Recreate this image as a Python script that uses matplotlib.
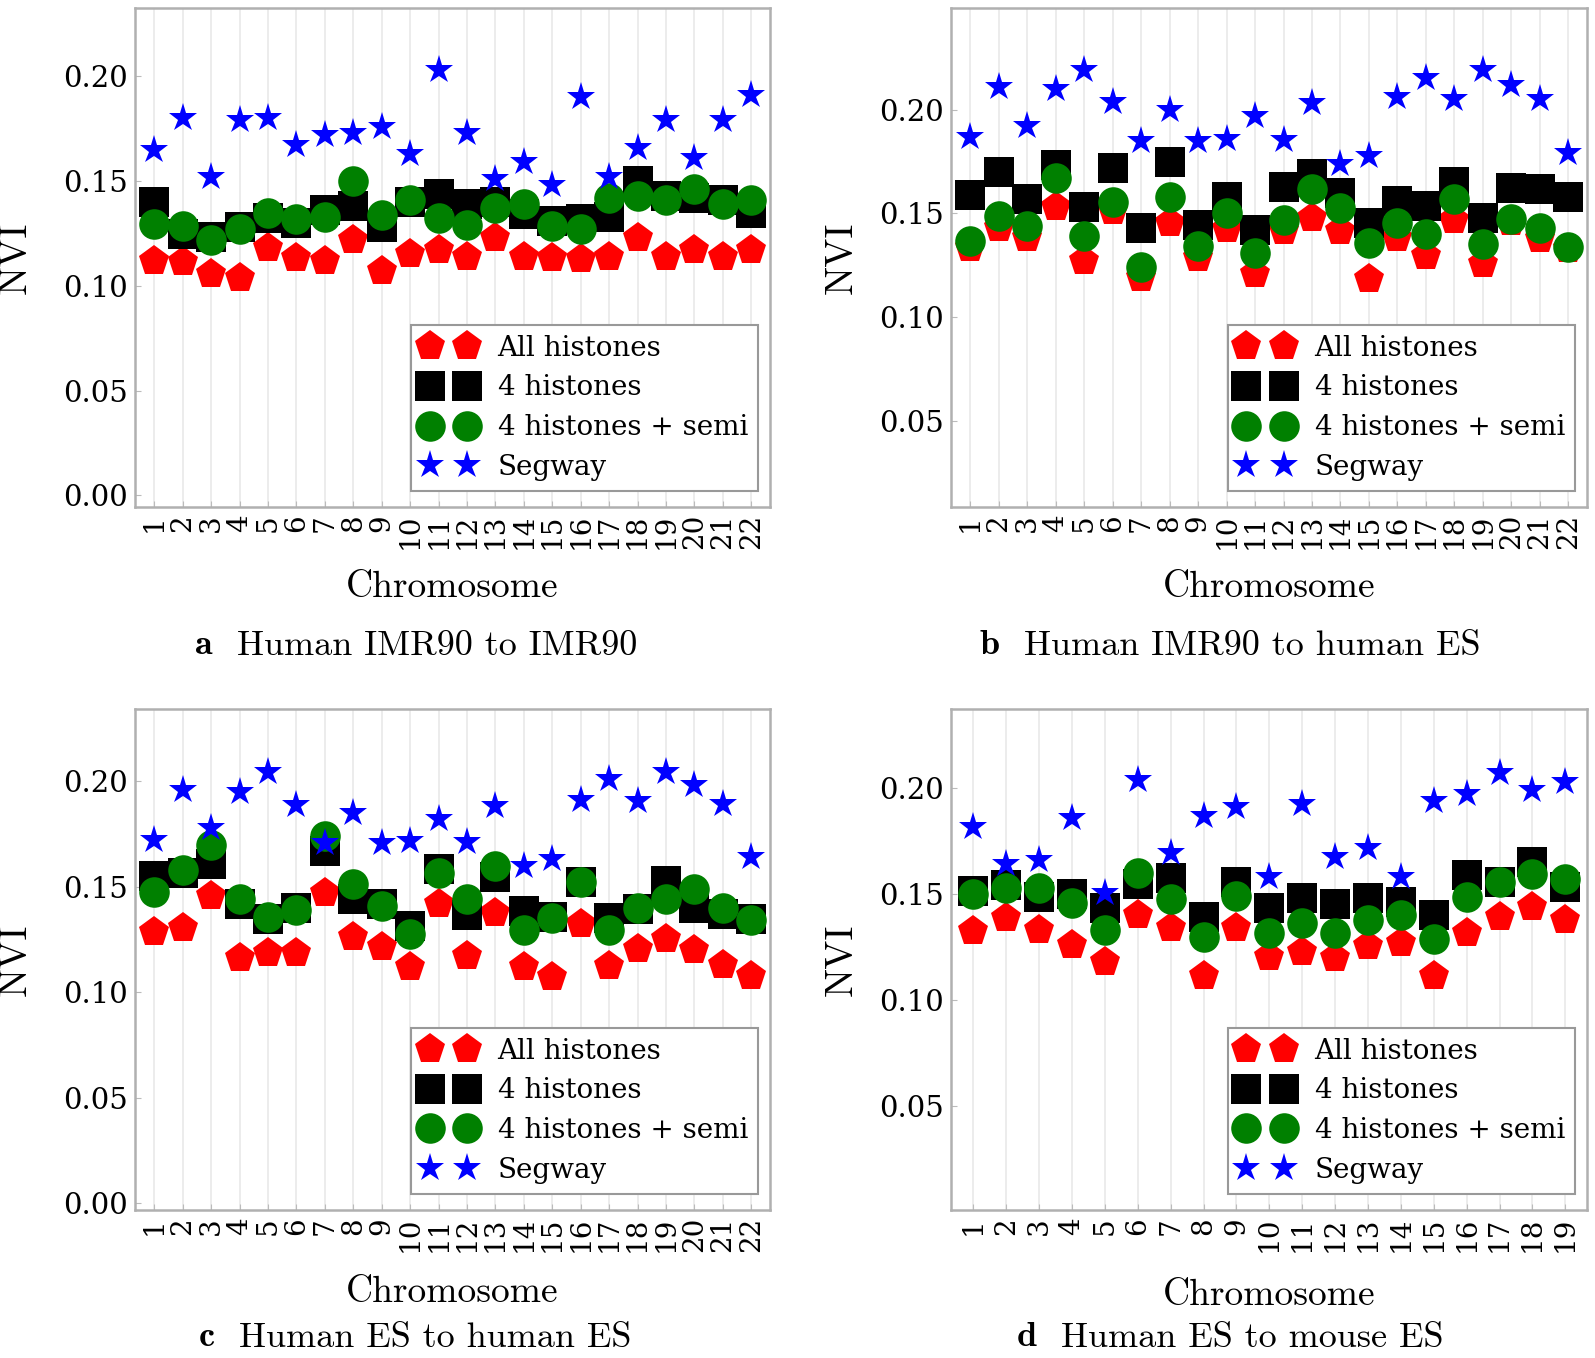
import matplotlib
matplotlib.use("Agg")
import matplotlib.pyplot as plt
import numpy as np

W, H = 1595, 1358

# ---- data (NVI per chromosome) ----
chrom_a = list(range(1, 23))
all_a = [0.112, 0.1116, 0.1056, 0.1037, 0.118, 0.1135, 0.112, 0.122, 0.107, 0.115, 0.117,
         0.114, 0.123, 0.114, 0.1135, 0.113, 0.114, 0.123, 0.114, 0.117, 0.114, 0.117]
four_a = [0.140, 0.125, 0.1235, 0.128, 0.1325, 0.130, 0.136, 0.138, 0.128, 0.140, 0.144,
          0.139, 0.140, 0.1345, 0.131, 0.132, 0.133, 0.150, 0.143, 0.142, 0.141, 0.135]
semi_a = [0.1294, 0.1286, 0.1217, 0.127, 0.135, 0.132, 0.133, 0.150, 0.134, 0.141, 0.1325,
          0.129, 0.137, 0.139, 0.1286, 0.127, 0.142, 0.143, 0.141, 0.146, 0.139, 0.141]
seg_a = [0.165, 0.180, 0.152, 0.179, 0.180, 0.167, 0.172, 0.173, 0.176, 0.163, 0.203,
         0.173, 0.151, 0.159, 0.148, 0.190, 0.152, 0.166, 0.179, 0.161, 0.179, 0.191]

chrom_b = list(range(1, 23))
all_b = [0.1336, 0.143, 0.138, 0.153, 0.127, 0.151, 0.119, 0.1456, 0.1285, 0.1424, 0.121,
         0.1416, 0.1477, 0.1416, 0.1184, 0.138, 0.1296, 0.147, 0.1256, 0.146, 0.1376, 0.133]
four_b = [0.159, 0.170, 0.157, 0.1736, 0.153, 0.172, 0.143, 0.175, 0.1446, 0.158, 0.142,
          0.163, 0.169, 0.160, 0.1456, 0.156, 0.1536, 0.1654, 0.1477, 0.1624, 0.162, 0.158]
semi_b = [0.1368, 0.1488, 0.144, 0.167, 0.139, 0.1557, 0.124, 0.158, 0.1344, 0.150, 0.131,
          0.1467, 0.1616, 0.1528, 0.136, 0.1456, 0.140, 0.1568, 0.1355, 0.1472, 0.143, 0.134]
seg_b = [0.187, 0.211, 0.192, 0.210, 0.219, 0.2035, 0.185, 0.200, 0.185, 0.186, 0.197,
         0.1856, 0.203, 0.174, 0.1776, 0.206, 0.2155, 0.205, 0.219, 0.212, 0.205, 0.179]

chrom_c = list(range(1, 23))
all_c = [0.1286, 0.1306, 0.1455, 0.116, 0.1186, 0.1186, 0.1468, 0.126, 0.1215, 0.112, 0.142,
         0.117, 0.1376, 0.112, 0.1073, 0.1322, 0.1123, 0.1207, 0.1254, 0.120, 0.1128, 0.1076]
four_c = [0.155, 0.1567, 0.1607, 0.142, 0.1346, 0.1397, 0.167, 0.1444, 0.142, 0.1313, 0.1584,
          0.1368, 0.1547, 0.1385, 0.1355, 0.1523, 0.1354, 0.1392, 0.1529, 0.1398, 0.137, 0.1346]
semi_c = [0.1476, 0.158, 0.1697, 0.1444, 0.1357, 0.139, 0.174, 0.1515, 0.1408, 0.1278, 0.1566,
          0.1444, 0.1597, 0.1294, 0.135, 0.1523, 0.1297, 0.1397, 0.1444, 0.1487, 0.1397, 0.134]
seg_c = [0.172, 0.196, 0.178, 0.195, 0.2044, 0.1886, 0.1705, 0.1847, 0.1705, 0.1717, 0.1823,
         0.171, 0.188, 0.160, 0.1633, 0.191, 0.2008, 0.1907, 0.2044, 0.198, 0.189, 0.164]

chrom_d = list(range(1, 20))
all_d = [0.1328, 0.1386, 0.133, 0.126, 0.118, 0.140, 0.1339, 0.1113, 0.1339, 0.1205,
         0.1228, 0.1197, 0.1255, 0.1268, 0.1113, 0.1315, 0.1394, 0.144, 0.1378]
four_d = [0.1517, 0.1543, 0.1488, 0.150, 0.1435, 0.155, 0.1576, 0.1392, 0.1556, 0.1435,
          0.148, 0.1453, 0.1482, 0.1465, 0.140, 0.159, 0.1557, 0.165, 0.1532]
semi_d = [0.150, 0.1528, 0.1528, 0.146, 0.133, 0.1598, 0.1476, 0.1296, 0.149, 0.1315,
          0.1365, 0.1315, 0.1378, 0.140, 0.129, 0.1488, 0.1559, 0.1595, 0.157]
seg_d = [0.1816, 0.1643, 0.1661, 0.1858, 0.1507, 0.204, 0.1696, 0.187, 0.1913, 0.158,
         0.1926, 0.1677, 0.1717, 0.158, 0.1942, 0.1973, 0.2074, 0.199, 0.203]

panels = [
    # data, pixel box (left, top, right, bottom), ylim, yticks, letter, caption,
    # caption left x, "Chromosome" y, caption y
    ((chrom_a, all_a, four_a, semi_a, seg_a), (135, 8, 770, 507), (-0.0055, 0.2326),
     [0.00, 0.05, 0.10, 0.15, 0.20], "a", "Human IMR90 to IMR90", 237, 587, 646),
    ((chrom_b, all_b, four_b, semi_b, seg_b), (951, 8, 1587, 507), (0.0086, 0.249),
     [0.05, 0.10, 0.15, 0.20], "b", "Human IMR90 to human ES", 1024, 587, 646),
    ((chrom_c, all_c, four_c, semi_c, seg_c), (135, 709, 770, 1210), (-0.0032, 0.2342),
     [0.00, 0.05, 0.10, 0.15, 0.20], "c", "Human ES to human ES", 239, 1292, 1338),
    ((chrom_d, all_d, four_d, semi_d, seg_d), (951, 709, 1587, 1210), (0.0007, 0.2375),
     [0.05, 0.10, 0.15, 0.20], "d", "Human ES to mouse ES", 1061, 1295, 1338),
]

labels = ["All histones", "4 histones", "4 histones + semi", "Segway"]
colors = ["red", "black", "green", "blue"]
markers = ["p", "s", "o", "*"]
sizes = [23, 22, 22, 21]

fig = plt.figure(figsize=(W / 100, H / 100), dpi=100)

for data, box, ylim, yt, letter, caption, cx, chy, cy in panels:
    l, t, r, b = box
    ax = fig.add_axes([l / W, 1 - b / H, (r - l) / W, (b - t) / H])
    chrom = data[0]
    for k in range(4):
        ax.plot(chrom, data[k + 1], linestyle="none", marker=markers[k], color=colors[k],
                markersize=sizes[k], markeredgewidth=0, label=labels[k], zorder=3 + k)
    n = len(chrom)
    ax.set_xlim(0.32, n + 0.66)
    ax.set_ylim(*ylim)
    ax.set_xticks(chrom)
    ax.set_xticklabels([str(c) for c in chrom], rotation=90, fontsize=20, family="DejaVu Serif")
    ax.set_yticks(yt)
    ax.set_yticklabels(["%.2f" % v for v in yt], fontsize=21, family="DejaVu Serif")
    ax.tick_params(direction="in", length=4, color="#bbbbbb", pad=5)
    ax.grid(axis="x", color="#ebebeb", linewidth=1.3, zorder=0)
    ax.set_axisbelow(True)
    for s in ax.spines.values():
        s.set_color("#b0b0b0")
        s.set_linewidth(1.8)
    ax.set_ylabel("NVI", fontsize=28, family="cmr10")
    # right edge of the rotated label, in pixels
    lab_px = 34 if l < 500 else 860
    ax.yaxis.set_label_coords((lab_px - l) / (r - l), 0.5)
    leg = ax.legend(loc="lower right", bbox_to_anchor=(0.981, 0.032), borderaxespad=0,
                    numpoints=2, fancybox=False, framealpha=1, edgecolor="#999999",
                    prop={"family": "DejaVu Serif", "size": 20}, handlelength=1.95,
                    handletextpad=0.8, labelspacing=0.46, borderpad=0.36)
    leg.get_frame().set_linewidth(1.5)
    fig.text(((l + r) / 2) / W, 1 - chy / H, "Chromosome", fontsize=27, family="cmr10",
             ha="center", va="center")
    fig.text((cx - 24) / W, 1 - cy / H, letter, fontsize=26, family="cmb10",
             ha="right", va="center")
    fig.text(cx / W, 1 - cy / H, caption, fontsize=26, family="cmr10",
             ha="left", va="center")

fig.savefig("out.png", dpi=100)
